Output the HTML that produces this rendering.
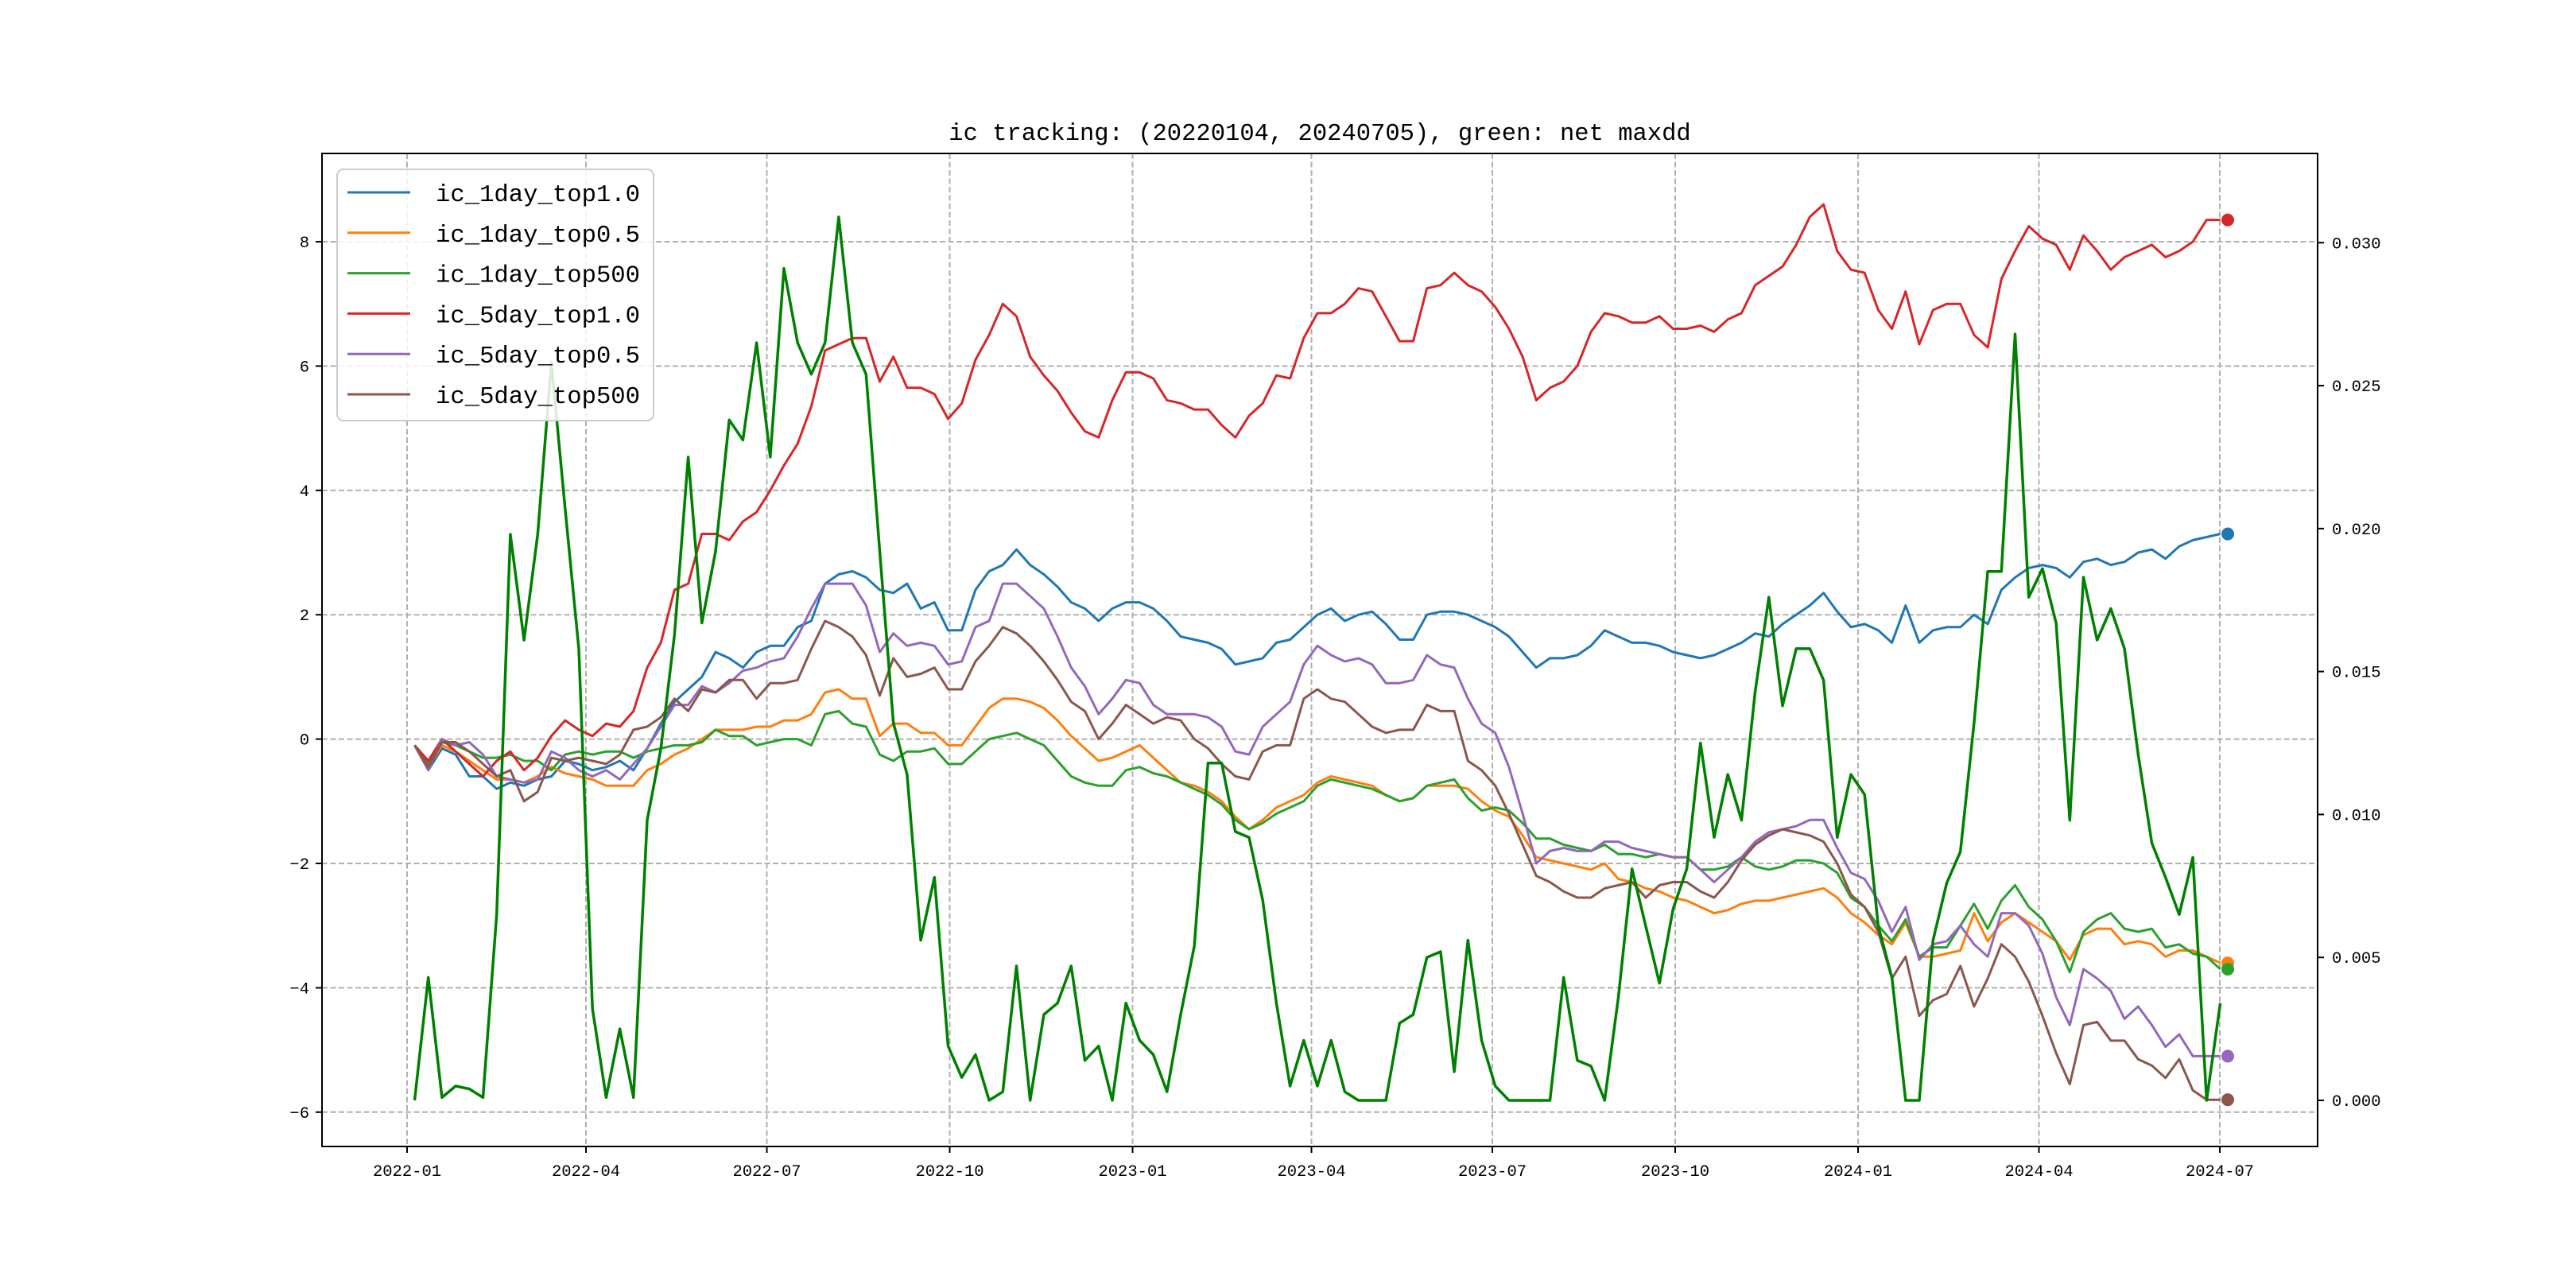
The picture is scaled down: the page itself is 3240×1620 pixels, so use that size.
<!DOCTYPE html>
<html><head><meta charset="utf-8">
<style>
html,body{margin:0;padding:0;background:#fff;}
svg{display:block;}
text{font-family:"Liberation Mono","Noto Sans CJK SC",monospace;fill:#000;}
</style></head>
<body>
<svg id="chart" width="3240" height="1620" viewBox="0 0 3240 1620"></svg>
<script>
// ---- data ----
const firstDay = 3.8;      // days after 2022-01-01 of first sample
const stepDays = 6.882;    // sampling interval in days
const lastDay = 916;       // 2024-07-05
const xTickLabels = ["2022-01","2022-04","2022-07","2022-10","2023-01","2023-04","2023-07","2023-10","2024-01","2024-04","2024-07"];
const xTickDays = [0,90,181,273,365,455,546,638,730,821,912];
const leftTicks = [-6,-4,-2,0,2,4,6,8];
const rightTicks = [0.000,0.005,0.010,0.015,0.020,0.025,0.030];
const seriesNames = ["ic_1day_top1.0","ic_1day_top0.5","ic_1day_top500","ic_5day_top1.0","ic_5day_top0.5","ic_5day_top500"];
const ic1dTop10 = [-0.1,-0.5,-0.15,-0.25,-0.6,-0.6,-0.8,-0.7,-0.75,-0.65,
-0.6,-0.35,-0.4,-0.5,-0.45,-0.35,-0.5,-0.15,0.25,0.6,
0.8,1.0,1.4,1.3,1.15,1.4,1.5,1.5,1.8,1.9,
2.5,2.65,2.7,2.6,2.4,2.35,2.5,2.1,2.2,1.75,
1.75,2.4,2.7,2.8,3.05,2.8,2.65,2.45,2.2,2.1,
1.9,2.1,2.2,2.2,2.1,1.9,1.65,1.6,1.55,1.45,
1.2,1.25,1.3,1.55,1.6,1.8,2.0,2.1,1.9,2.0,
2.05,1.85,1.6,1.6,2.0,2.05,2.05,2.0,1.9,1.8,
1.65,1.4,1.15,1.3,1.3,1.35,1.5,1.75,1.65,1.55,
1.55,1.5,1.4,1.35,1.3,1.35,1.45,1.55,1.7,1.65,
1.85,2.0,2.15,2.35,2.05,1.8,1.85,1.75,1.55,2.15,
1.55,1.75,1.8,1.8,2.0,1.85,2.4,2.6,2.75,2.8,
2.75,2.6,2.85,2.9,2.8,2.85,3.0,3.05,2.9,3.1,
3.2,3.25,3.3];
const ic1dTop05 = [-0.1,-0.45,-0.1,-0.2,-0.35,-0.5,-0.65,-0.65,-0.7,-0.6,
-0.45,-0.55,-0.6,-0.65,-0.75,-0.75,-0.75,-0.5,-0.4,-0.25,
-0.15,0,0.15,0.15,0.15,0.2,0.2,0.3,0.3,0.4,
0.75,0.8,0.65,0.65,0.05,0.25,0.25,0.1,0.1,-0.1,
-0.1,0.2,0.5,0.65,0.65,0.6,0.5,0.3,0.05,-0.15,
-0.35,-0.3,-0.2,-0.1,-0.3,-0.5,-0.7,-0.75,-0.85,-1.0,
-1.25,-1.45,-1.3,-1.1,-1.0,-0.9,-0.7,-0.6,-0.65,-0.7,
-0.75,-0.9,-1.0,-0.95,-0.75,-0.75,-0.75,-0.8,-1.0,-1.15,
-1.25,-1.55,-1.9,-1.95,-2.0,-2.05,-2.1,-2.0,-2.25,-2.3,
-2.4,-2.45,-2.55,-2.6,-2.7,-2.8,-2.75,-2.65,-2.6,-2.6,
-2.55,-2.5,-2.45,-2.4,-2.55,-2.8,-2.95,-3.15,-3.3,-2.95,
-3.5,-3.5,-3.45,-3.4,-2.8,-3.25,-2.95,-2.8,-2.95,-3.1,
-3.25,-3.55,-3.15,-3.05,-3.05,-3.3,-3.25,-3.3,-3.5,-3.4,
-3.4,-3.5,-3.6];
const ic1dTop500 = [-0.1,-0.4,-0.05,-0.1,-0.2,-0.3,-0.3,-0.25,-0.35,-0.35,
-0.5,-0.25,-0.2,-0.25,-0.2,-0.2,-0.3,-0.2,-0.15,-0.1,
-0.1,-0.05,0.15,0.05,0.05,-0.1,-0.05,0,0,-0.1,
0.4,0.45,0.25,0.2,-0.25,-0.35,-0.2,-0.2,-0.15,-0.4,
-0.4,-0.2,0,0.05,0.1,0,-0.1,-0.35,-0.6,-0.7,
-0.75,-0.75,-0.5,-0.45,-0.55,-0.6,-0.7,-0.8,-0.9,-1.05,
-1.3,-1.45,-1.35,-1.2,-1.1,-1.0,-0.75,-0.65,-0.7,-0.75,
-0.8,-0.9,-1.0,-0.95,-0.75,-0.7,-0.65,-0.95,-1.15,-1.1,
-1.15,-1.35,-1.6,-1.6,-1.7,-1.75,-1.8,-1.7,-1.85,-1.85,
-1.9,-1.85,-1.9,-1.9,-2.1,-2.1,-2.05,-1.9,-2.05,-2.1,
-2.05,-1.95,-1.95,-2.0,-2.15,-2.55,-2.7,-3.0,-3.25,-2.9,
-3.5,-3.35,-3.35,-3.0,-2.65,-3.05,-2.6,-2.35,-2.7,-2.9,
-3.25,-3.75,-3.1,-2.9,-2.8,-3.05,-3.1,-3.05,-3.35,-3.3,
-3.45,-3.5,-3.7];
const ic5dTop10 = [-0.1,-0.35,0,-0.2,-0.4,-0.6,-0.35,-0.2,-0.5,-0.3,
0.05,0.3,0.15,0.05,0.25,0.2,0.45,1.15,1.55,2.4,
2.5,3.3,3.3,3.2,3.5,3.65,4.0,4.4,4.75,5.35,
6.25,6.35,6.45,6.45,5.75,6.15,5.65,5.65,5.55,5.15,
5.4,6.1,6.5,7.0,6.8,6.15,5.85,5.6,5.25,4.95,
4.85,5.45,5.9,5.9,5.8,5.45,5.4,5.3,5.3,5.05,
4.85,5.2,5.4,5.85,5.8,6.45,6.85,6.85,7.0,7.25,
7.2,6.8,6.4,6.4,7.25,7.3,7.5,7.3,7.2,6.95,
6.6,6.15,5.45,5.65,5.75,6.0,6.55,6.85,6.8,6.7,
6.7,6.8,6.6,6.6,6.65,6.55,6.75,6.85,7.3,7.45,
7.6,7.95,8.4,8.6,7.85,7.55,7.5,6.9,6.6,7.2,
6.35,6.9,7.0,7.0,6.5,6.3,7.4,7.85,8.25,8.05,
7.95,7.55,8.1,7.85,7.55,7.75,7.85,7.95,7.75,7.85,
8.0,8.35,8.35];
const ic5dTop05 = [-0.1,-0.5,0,-0.1,-0.05,-0.25,-0.6,-0.65,-0.7,-0.65,
-0.2,-0.3,-0.5,-0.6,-0.5,-0.65,-0.4,-0.15,0.2,0.55,
0.55,0.85,0.75,0.9,1.1,1.15,1.25,1.3,1.65,2.1,
2.5,2.5,2.5,2.15,1.4,1.7,1.5,1.55,1.5,1.2,
1.25,1.8,1.9,2.5,2.5,2.3,2.1,1.65,1.15,0.85,
0.4,0.65,0.95,0.9,0.55,0.4,0.4,0.4,0.35,0.2,
-0.2,-0.25,0.2,0.4,0.6,1.2,1.5,1.35,1.25,1.3,
1.2,0.9,0.9,0.95,1.35,1.2,1.15,0.65,0.25,0.1,
-0.45,-1.2,-2.0,-1.8,-1.75,-1.8,-1.8,-1.65,-1.65,-1.75,
-1.8,-1.85,-1.9,-1.9,-2.1,-2.3,-2.1,-1.9,-1.65,-1.5,
-1.45,-1.4,-1.3,-1.3,-1.75,-2.15,-2.25,-2.6,-3.1,-2.7,
-3.55,-3.3,-3.25,-3.0,-3.3,-3.5,-2.8,-2.8,-3.0,-3.45,
-4.15,-4.6,-3.7,-3.85,-4.05,-4.5,-4.3,-4.6,-4.95,-4.75,
-5.1,-5.1,-5.1];
const ic5dTop500 = [-0.1,-0.45,-0.05,-0.05,-0.2,-0.4,-0.6,-0.5,-1.0,-0.85,
-0.3,-0.35,-0.3,-0.35,-0.4,-0.25,0.15,0.2,0.35,0.65,
0.45,0.8,0.75,0.95,0.95,0.65,0.9,0.9,0.95,1.45,
1.9,1.8,1.65,1.35,0.7,1.3,1.0,1.05,1.15,0.8,
0.8,1.25,1.5,1.8,1.7,1.5,1.25,0.95,0.6,0.45,
0,0.25,0.55,0.4,0.25,0.35,0.3,0,-0.15,-0.4,
-0.6,-0.65,-0.2,-0.1,-0.1,0.65,0.8,0.65,0.6,0.4,
0.2,0.1,0.15,0.15,0.55,0.45,0.45,-0.35,-0.5,-0.75,
-1.2,-1.7,-2.2,-2.3,-2.45,-2.55,-2.55,-2.4,-2.35,-2.3,
-2.55,-2.35,-2.3,-2.3,-2.45,-2.55,-2.3,-1.95,-1.7,-1.55,
-1.45,-1.5,-1.55,-1.65,-2.0,-2.5,-2.7,-3.1,-3.85,-3.5,
-4.45,-4.2,-4.1,-3.65,-4.3,-3.85,-3.3,-3.5,-3.9,-4.45,
-5.05,-5.55,-4.6,-4.55,-4.85,-4.85,-5.15,-5.25,-5.45,-5.15,
-5.65,-5.8,-5.8];
const netMaxdd = [0,.0043,.0001,.0005,.0004,.0001,.0065,.0198,.0161,.0198,
.0258,.0207,.0158,.0032,.0001,.0025,.0001,.0098,.0123,.0163,
.0225,.0167,.0192,.0238,.0231,.0265,.0225,.0291,.0265,.0254,
.0265,.0309,.0265,.0254,.0192,.0132,.0114,.0056,.0078,.0019,
.0008,.0016,0,.0003,.0047,0,.0030,.0034,.0047,.0014,
.0019,0,.0034,.0021,.0016,.0003,.0030,.0054,.0118,.0118,
.0094,.0092,.0070,.0034,.0005,.0021,.0005,.0021,.0003,0,
0,0,.0027,.0030,.0050,.0052,.0010,.0056,.0021,.0005,
0,0,0,0,.0043,.0014,.0012,0,.0036,.0081,
.0061,.0041,.0067,.0081,.0125,.0092,.0114,.0098,.0143,.0176,
.0138,.0158,.0158,.0147,.0092,.0114,.0107,.0061,.0043,0,
0,.0056,.0076,.0087,.0132,.0185,.0185,.0268,.0176,.0186,
.0167,.0098,.0183,.0161,.0172,.0158,.0121,.0090,.0078,.0065,
.0085,0,.0034];
const seriesColors = ["#1f77b4","#ff7f0e","#2ca02c","#d62728","#9467bd","#8c564b"];
const seriesValues = [ic1dTop10, ic1dTop05, ic1dTop500, ic5dTop10, ic5dTop05, ic5dTop500];

// ---- layout / scales ----
const NS = "http://www.w3.org/2000/svg";
const svg = document.getElementById("chart");
const L = 405, R = 2915, T = 193, B = 1442;
function xScale(day){ return 512 + 2.5 * day; }
function yLeft(v){ return 929.6 - 78.2 * v; }
function yRight(r){ return 1384 - 35958 * r; }
function dayOf(i){ return firstDay + stepDays * i; }
function mk(tag, attrs, parent){
  const e = document.createElementNS(NS, tag);
  for (const k in attrs) e.setAttribute(k, attrs[k]);
  (parent || svg).appendChild(e);
  return e;
}

// title
const title = mk("text", {x:(L+R)/2, y:176, "text-anchor":"middle", "font-size":"30.5"});
title.textContent = "ic tracking: (20220104, 20240705), green: net maxdd";



// grid
const grid = mk("g", {stroke:"#b0b0b0", "stroke-width":"2", "stroke-dasharray":"7,3.5"});


xTickDays.forEach(d => { mk("line", {x1:xScale(d), x2:xScale(d), y1:T, y2:B}, grid); });
leftTicks.forEach(v => { mk("line", {x1:L, x2:R, y1:yLeft(v), y2:yLeft(v)}, grid); });

// clip
const defs = mk("defs", {});
const cp = mk("clipPath", {id:"plotclip"}, defs);
mk("rect", {x:L, y:T, width:R-L, height:B-T}, cp);
const plot = mk("g", {"clip-path":"url(#plotclip)"});



// ic series lines
seriesValues.forEach((vals, s) => {
  const pts = vals.map((v, i) => xScale(dayOf(i)).toFixed(1) + "," + yLeft(v).toFixed(1)).join(" ");
  const pl = mk("polyline", {points:pts, fill:"none", stroke:seriesColors[s], "stroke-width":"3", "stroke-linejoin":"round"}, plot);
  
  
});
// net maxdd (right axis)
const mdPts = netMaxdd.map((r, i) => xScale(dayOf(i)).toFixed(1) + "," + yRight(r).toFixed(1)).join(" ");
const md = mk("polyline", {points:mdPts, fill:"none", stroke:"#008000", "stroke-width":"3.5", "stroke-linejoin":"round"}, plot);


// end dots
seriesValues.forEach((vals, s) => {
  const c = mk("circle", {cx:xScale(lastDay), cy:yLeft(vals[vals.length-1]), r:8, fill:seriesColors[s]}, plot);
  
  
});

// axes frame
const frame = mk("rect", {x:L, y:T, width:R-L, height:B-T, fill:"none", stroke:"#000", "stroke-width":"2"});



// x ticks
const xax = mk("g", {});


xTickDays.forEach((d, i) => {
  mk("line", {x1:xScale(d), x2:xScale(d), y1:B, y2:B+8, stroke:"#000", "stroke-width":"2"}, xax);
  const t = mk("text", {x:xScale(d), y:B+37, "text-anchor":"middle", "font-size":"20.5"}, xax);
  t.textContent = xTickLabels[i];
  
  
});
// left ticks
const yax = mk("g", {});


leftTicks.forEach(v => {
  mk("line", {x1:L-8, x2:L, y1:yLeft(v), y2:yLeft(v), stroke:"#000", "stroke-width":"2"}, yax);
  const t = mk("text", {x:L-16, y:yLeft(v)+7, "text-anchor":"end", "font-size":"20.5"}, yax);
  t.textContent = v < 0 ? "\u2212" + Math.abs(v) : String(v);
  
  
});
// right ticks
const yrx = mk("g", {});


rightTicks.forEach(r => {
  mk("line", {x1:R, x2:R+8, y1:yRight(r), y2:yRight(r), stroke:"#000", "stroke-width":"2"}, yrx);
  const t = mk("text", {x:R+18, y:yRight(r)+7, "text-anchor":"start", "font-size":"20.5"}, yrx);
  t.textContent = r.toFixed(3);
  
  
});

// legend
const lg = mk("g", {});


mk("rect", {x:424, y:213, width:398, height:316, rx:8, fill:"#fff", "fill-opacity":"0.85", stroke:"#cccccc", "stroke-width":"2"}, lg);
seriesNames.forEach((n, s) => {
  const y = 242 + 50.8 * s;
  const entry = mk("g", {}, lg);
  
  
  mk("line", {x1:437, x2:516, y1:y, y2:y, stroke:seriesColors[s], "stroke-width":"3"}, entry);
  const t = mk("text", {x:548, y:y+11, "font-size":"30.6"}, entry);
  t.textContent = n;
});
</script>
</body></html>
